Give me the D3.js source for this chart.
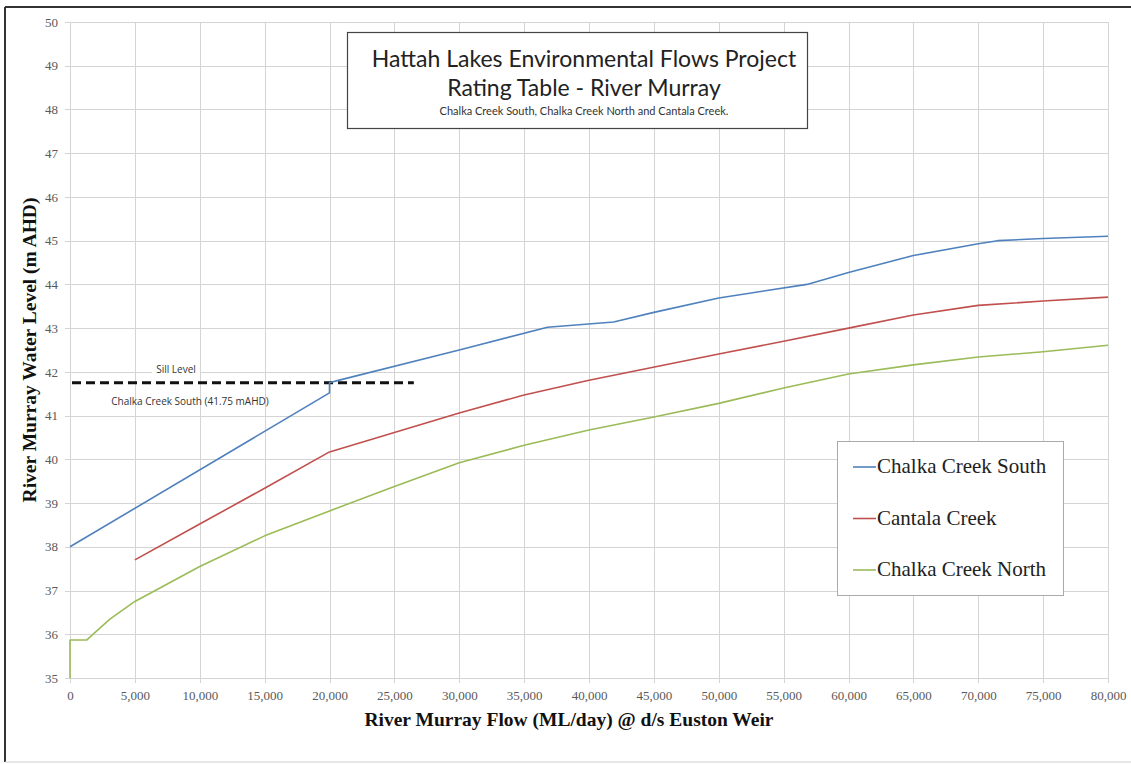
<!DOCTYPE html>
<html>
<head>
<meta charset="utf-8">
<script src="https://cdn.jsdelivr.net/npm/d3@7"></script>
<style>
  html, body { margin: 0; padding: 0; background: #fff; }
  svg { display: block; }
</style>
</head>
<body>
<svg id="chart" width="1131" height="764"></svg>
<script>
// Rating table data: river flow (ML/day) against water level (m AHD)
const flowSouth  = [0, 20000, 20000, 20600, 30000, 36800, 41900, 45000, 50000, 56800, 60000, 65000, 70000, 71500, 75000, 80000];
const levelSouth = [38.0, 41.52, 41.75, 41.8, 42.5, 43.02, 43.14, 43.36, 43.69, 44.0, 44.27, 44.66, 44.93, 45.0, 45.05, 45.1];

const flowCantala  = [5000, 10000, 15000, 20000, 30000, 35000, 40000, 50000, 55000, 60000, 65000, 70000, 75000, 80000];
const levelCantala = [37.7, 38.52, 39.34, 40.17, 41.06, 41.47, 41.81, 42.41, 42.7, 43.0, 43.3, 43.52, 43.62, 43.71];

const flowNorth  = [0, 0, 1300, 2300, 3100, 5000, 7500, 10000, 15000, 20000, 25000, 30000, 35000, 40000, 45000, 50000, 55000, 60000, 65000, 70000, 75000, 80000];
const levelNorth = [35.0, 35.87, 35.87, 36.14, 36.35, 36.75, 37.15, 37.55, 38.25, 38.82, 39.38, 39.92, 40.32, 40.67, 40.97, 41.28, 41.63, 41.95, 42.16, 42.34, 42.46, 42.61];

const seriesNames  = ["Chalka Creek South", "Cantala Creek", "Chalka Creek North"];
const seriesColors = ["#4f81bd", "#c0504d", "#9bbb59"];

const xTicks = d3.range(0, 80001, 5000);
const yTicks = d3.range(35, 51, 1);

const sillLevel = 41.75;
const sillExtent = [0, 26500];

const titleLines = ["Hattah Lakes Environmental Flows Project", "Rating Table - River Murray"];
const subtitle = "Chalka Creek South, Chalka Creek North and Cantala Creek.";
const xTitle = "River Murray Flow (ML/day) @ d/s Euston Weir";
const yTitle = "River Murray Water Level (m AHD)";

const svg = d3.select("#chart");
const W = 1131, H = 764;
const plot = { left: 70, right: 1108, top: 22, bottom: 678 };

// outer frame
svg.append("line").attr("x1", 5).attr("x2", W).attr("y1", 7).attr("y2", 7)
  .attr("stroke", "#333").attr("stroke-width", 2);
svg.append("line").attr("x1", 5).attr("x2", 5).attr("y1", 7).attr("y2", 762)
  .attr("stroke", "#333").attr("stroke-width", 2);
svg.append("line").attr("x1", 5).attr("x2", W).attr("y1", 762).attr("y2", 762)
  .attr("stroke", "#cfcfcf").attr("stroke-width", 1);

const x = d3.scaleLinear().domain([0, 80000]).range([plot.left, plot.right]);
const y = d3.scaleLinear().domain([35, 50]).range([plot.bottom, plot.top]);

// gridlines
const grid = svg.append("g").attr("stroke", "#d4d4d4").attr("stroke-width", 1);
grid.selectAll("line.v").data(xTicks).join("line")
  .attr("x1", d => Math.round(x(d)) + 0.5).attr("x2", d => Math.round(x(d)) + 0.5)
  .attr("y1", plot.top).attr("y2", plot.bottom + 5);
grid.selectAll("line.h").data(yTicks).join("line")
  .attr("y1", d => Math.round(y(d)) + 0.5).attr("y2", d => Math.round(y(d)) + 0.5)
  .attr("x1", plot.left - 5).attr("x2", plot.right);

// tick labels via d3 axes
const fmt = d3.format(",");
const xAxis = svg.append("g").attr("transform", `translate(0,${plot.bottom})`)
  .call(d3.axisBottom(x).tickValues(xTicks).tickFormat(fmt).tickSize(0).tickPadding(13));
const yAxis = svg.append("g").attr("transform", `translate(${plot.left},0)`)
  .call(d3.axisLeft(y).tickValues(yTicks).tickFormat(d3.format("d")).tickSize(0).tickPadding(12));
[xAxis, yAxis].forEach(a => {
  a.select(".domain").remove();
  a.selectAll("text").attr("font-family", "'Liberation Serif', 'Times New Roman', serif")
    .attr("font-size", 13).attr("fill", "#595959");
});

// sill level reference line
const sill = svg.append("g");
sill.append("rect").attr("x", 152).attr("y", 363).attr("width", 48).attr("height", 13).attr("fill", "#fff");
sill.append("line")
  .attr("x1", x(sillExtent[0]) + 2).attr("x2", x(sillExtent[1]))
  .attr("y1", y(sillLevel)).attr("y2", y(sillLevel))
  .attr("stroke", "#111").attr("stroke-width", 3).attr("stroke-dasharray", "9,5");
sill.append("text").attr("x", 176).attr("y", 373).attr("text-anchor", "middle")
  .attr("font-family", "'Open Sans', sans-serif").attr("font-size", 10).attr("fill", "#333")
  .text("Sill Level");
sill.append("text").attr("x", 190).attr("y", 405).attr("text-anchor", "middle")
  .attr("font-family", "'Open Sans', sans-serif").attr("font-size", 10).attr("fill", "#333")
  .text("Chalka Creek South (41.75 mAHD)");

// series lines
const series = [
  { flows: flowSouth, levels: levelSouth },
  { flows: flowCantala, levels: levelCantala },
  { flows: flowNorth, levels: levelNorth }
];
const line = d3.line().x(d => x(d[0])).y(d => y(d[1]));
series.forEach((s, i) => {
  svg.append("path")
    .datum(d3.zip(s.flows, s.levels))
    .attr("d", line)
    .attr("fill", "none")
    .attr("stroke", seriesColors[i])
    .attr("stroke-width", 1.6)
    .attr("stroke-linejoin", "round");
});

// title box
const tb = svg.append("g");
tb.append("rect").attr("x", 347.5).attr("y", 32.5).attr("width", 460).attr("height", 96)
  .attr("fill", "#fff").attr("stroke", "#444").attr("stroke-width", 1.2);
tb.selectAll("text.t").data(titleLines).join("text")
  .attr("x", 584).attr("y", (d, i) => 67 + i * 29).attr("text-anchor", "middle")
  .attr("font-family", "Lato, 'Open Sans', sans-serif").attr("font-size", 23).attr("fill", "#222")
  .text(d => d);
tb.append("text").attr("x", 584).attr("y", 115).attr("text-anchor", "middle")
  .attr("font-family", "Lato, 'Open Sans', sans-serif").attr("font-size", 11).attr("fill", "#333")
  .text(subtitle);

// axis titles
svg.append("text").attr("x", 569).attr("y", 726).attr("text-anchor", "middle")
  .attr("font-family", "'Liberation Serif', 'Times New Roman', serif").attr("font-weight", "bold")
  .attr("font-size", 19.5).attr("fill", "#111").text(xTitle);
svg.append("text").attr("transform", "translate(36,350) rotate(-90)").attr("text-anchor", "middle")
  .attr("font-family", "'Liberation Serif', 'Times New Roman', serif").attr("font-weight", "bold")
  .attr("font-size", 19.5).attr("fill", "#111").text(yTitle);

// legend
const lg = svg.append("g");
lg.append("rect").attr("x", 837.5).attr("y", 441.5).attr("width", 226).attr("height", 154)
  .attr("fill", "#fff").attr("stroke", "#aaa").attr("stroke-width", 1);
seriesNames.forEach((name, i) => {
  const cy = 467 + i * 51.5;
  lg.append("line").attr("x1", 853).attr("x2", 876).attr("y1", cy).attr("y2", cy)
    .attr("stroke", seriesColors[i]).attr("stroke-width", 1.6);
  lg.append("text").attr("x", 877).attr("y", cy + 6)
    .attr("font-family", "'Liberation Serif', 'Times New Roman', serif")
    .attr("font-size", 21).attr("fill", "#222").text(name);
});
</script>
</body>
</html>
